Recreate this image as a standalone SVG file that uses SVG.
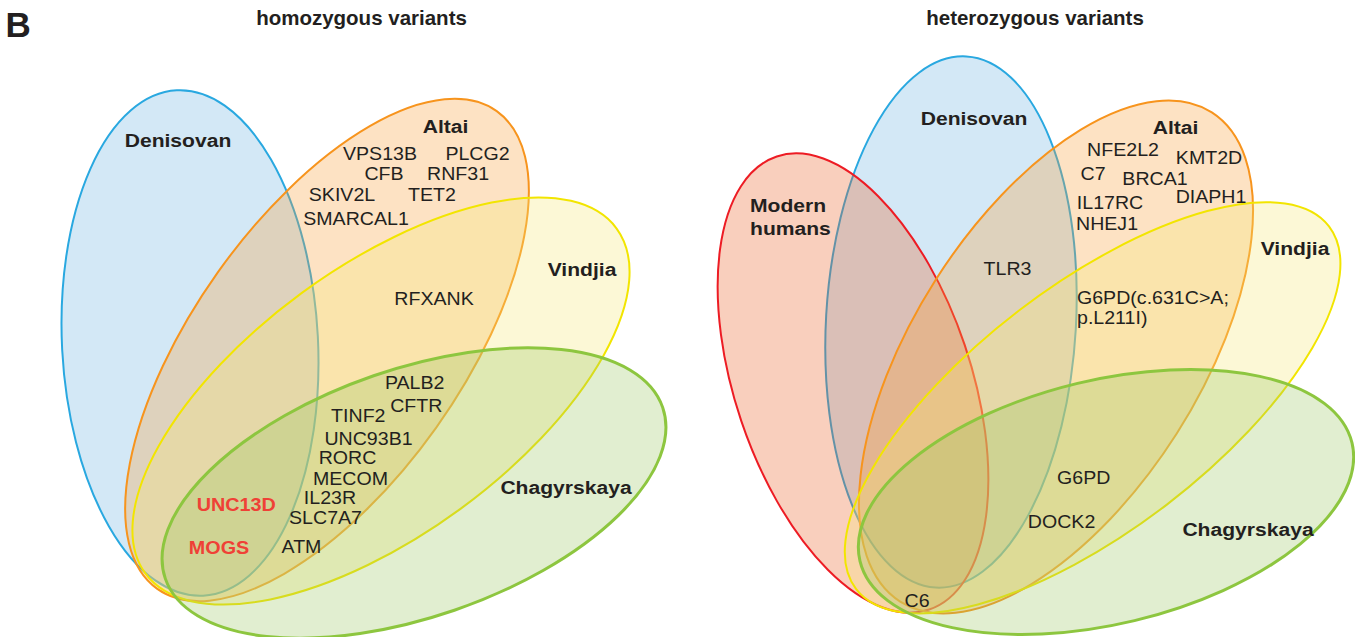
<svg xmlns="http://www.w3.org/2000/svg" width="1355" height="637" viewBox="0 0 1355 637">
<style>
.sh{stroke-width:2;fill-opacity:0.3}
.blue{fill:#6cb2e1;stroke:#29a8e0}
.orange{fill:#f89e37;stroke:#f7941d}
.yellow{fill:#f5e876;stroke:#f2e500}
.green{fill:#9bc662;stroke:#8dc63f;stroke-width:3}
.red{fill:#eb5f23;stroke:#ed1c24}
text{font-family:"Liberation Sans",Arial,sans-serif;fill:#231f20}
.t{font-size:20.5px;font-weight:bold;text-anchor:middle}
.lb{font-size:18.5px;font-weight:bold;text-anchor:middle}
.g{font-size:17.5px;text-anchor:middle}
.gl{font-size:17.5px}
.rd{font-size:18.5px;font-weight:bold;text-anchor:middle;fill:#ef4136}
</style>
<rect width="1355" height="637" fill="#ffffff"/>
<text x="5.5" y="36.7" style="font-size:35px;font-weight:bold">B</text>
<text class="t" x="361.5" y="25">homozygous variants</text>
<text class="t" x="1035" y="25">heterozygous variants</text>
<g id="sets-left">
<g id="L-denisovan"><ellipse class="sh blue" cx="190" cy="343" rx="128" ry="253" transform="rotate(-3 190 343)"/></g>
<g id="L-altai"><ellipse class="sh orange" cx="327" cy="350" rx="293" ry="134" transform="rotate(-54.6 327 350)"/></g>
<g id="L-vindjia"><ellipse class="sh yellow" cx="381" cy="401" rx="292" ry="134" transform="rotate(-36.2 381 401)"/></g>
<g id="L-chagyrskaya"><ellipse class="sh green" cx="414" cy="493" rx="263" ry="124" transform="rotate(-19 414 493)"/></g>
</g>
<g id="sets-right">
<g id="R-denisovan"><ellipse class="sh blue" cx="951" cy="322" rx="125" ry="266" transform="rotate(3.3 951 322)"/></g>
<g id="R-modern"><ellipse class="sh red" cx="853" cy="383" rx="118" ry="239" transform="rotate(-18.6 853 383)"/></g>
<g id="R-altai"><ellipse class="sh orange" cx="1056" cy="357" rx="290" ry="143" transform="rotate(-57.5 1056 357)"/></g>
<g id="R-vindjia"><ellipse class="sh yellow" cx="1092.6" cy="407.8" rx="298" ry="122" transform="rotate(-37.5 1092.6 407.8)"/></g>
<g id="R-chagyrskaya"><ellipse class="sh green" cx="1106" cy="502" rx="253" ry="122" transform="rotate(-13.5 1106 502)"/></g>
</g>
<g id="labels-left">
<text class="lb" transform="translate(178 147) scale(1.14 1)">Denisovan</text>
<text class="lb" transform="translate(445.5 133) scale(1.14 1)">Altai</text>
<text class="lb" transform="translate(582 276) scale(1.14 1)">Vindjia</text>
<text class="lb" transform="translate(566 494) scale(1.14 1)">Chagyrskaya</text>
<text class="g" transform="translate(380 160) scale(1.12 1)">VPS13B</text>
<text class="g" transform="translate(477.5 160) scale(1.12 1)">PLCG2</text>
<text class="g" transform="translate(384 180) scale(1.12 1)">CFB</text>
<text class="g" transform="translate(458 180) scale(1.12 1)">RNF31</text>
<text class="g" transform="translate(342 200.5) scale(1.12 1)">SKIV2L</text>
<text class="g" transform="translate(432 200.5) scale(1.12 1)">TET2</text>
<text class="g" transform="translate(356 225) scale(1.12 1)">SMARCAL1</text>
<text class="g" transform="translate(434 305) scale(1.12 1)">RFXANK</text>
<text class="g" transform="translate(414.7 389) scale(1.12 1)">PALB2</text>
<text class="g" transform="translate(416.3 412.3) scale(1.12 1)">CFTR</text>
<text class="g" transform="translate(358.3 422.3) scale(1.12 1)">TINF2</text>
<text class="g" transform="translate(368.5 445) scale(1.12 1)">UNC93B1</text>
<text class="g" transform="translate(347.5 464) scale(1.12 1)">RORC</text>
<text class="g" transform="translate(350.5 485) scale(1.12 1)">MECOM</text>
<text class="g" transform="translate(330 504) scale(1.12 1)">IL23R</text>
<text class="g" transform="translate(325.5 524.3) scale(1.12 1)">SLC7A7</text>
<text class="g" transform="translate(301.5 553.3) scale(1.12 1)">ATM</text>
<text class="rd" transform="translate(236.3 510.7) scale(1.07 1)">UNC13D</text>
<text class="rd" transform="translate(219 554) scale(1.07 1)">MOGS</text>
</g>
<g id="labels-right">
<text class="lb" transform="translate(974 125) scale(1.14 1)">Denisovan</text>
<text class="lb" transform="translate(1175.5 134) scale(1.14 1)">Altai</text>
<text class="lb" transform="translate(750 212) scale(1.14 1)" style="text-anchor:start">Modern</text>
<text class="lb" transform="translate(750 235) scale(1.14 1)" style="text-anchor:start">humans</text>
<text class="lb" transform="translate(1295 255) scale(1.14 1)">Vindjia</text>
<text class="lb" transform="translate(1248 536) scale(1.14 1)">Chagyrskaya</text>
<text class="g" transform="translate(1123 156) scale(1.12 1)">NFE2L2</text>
<text class="g" transform="translate(1209 164.3) scale(1.12 1)">KMT2D</text>
<text class="g" transform="translate(1093 180) scale(1.12 1)">C7</text>
<text class="g" transform="translate(1155 185) scale(1.12 1)">BRCA1</text>
<text class="g" transform="translate(1211 203.3) scale(1.12 1)">DIAPH1</text>
<text class="g" transform="translate(1110 209) scale(1.12 1)">IL17RC</text>
<text class="g" transform="translate(1107 230) scale(1.12 1)">NHEJ1</text>
<text class="g" transform="translate(1007.5 275) scale(1.12 1)">TLR3</text>
<text class="gl" transform="translate(1077 304.3) scale(1.12 1)">G6PD(c.631C&gt;A;</text>
<text class="gl" transform="translate(1077 324) scale(1.12 1)">p.L211I)</text>
<text class="g" transform="translate(1083.7 484) scale(1.12 1)">G6PD</text>
<text class="g" transform="translate(1061.6 528) scale(1.12 1)">DOCK2</text>
<text class="g" transform="translate(917 607) scale(1.12 1)">C6</text>
</g>
</svg>
